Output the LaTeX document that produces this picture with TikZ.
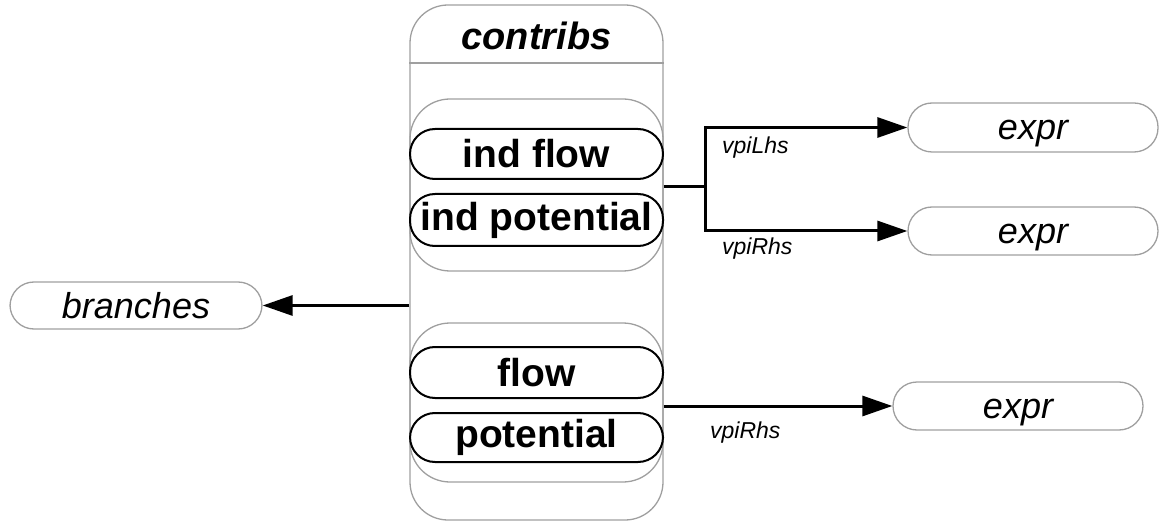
\documentclass[tikz,border=0pt]{standalone}
\usepackage{fontspec}
\setmainfont{Liberation Sans}
\usetikzlibrary{arrows.meta}
\begin{document}
\begin{tikzpicture}[x=1pt,y=-1pt,
  graybox/.style={draw=gray!75, line width=1.3pt},
  blackbox/.style={draw=black, line width=2pt, minimum width=253pt, rounded corners=25pt, inner sep=0pt, font=\bfseries\fontsize{39}{40}\selectfont},
  leaf/.style={graybox, rounded corners=24pt, minimum width=250pt, minimum height=48pt, inner sep=0pt, text height=25pt, text depth=0pt, font=\itshape\fontsize{36}{38}\selectfont},
  conn/.style={line width=3pt},
  arr/.style={conn, -{Triangle[length=30pt,width=20pt]}},
  lbl/.style={anchor=west, inner sep=0pt, font=\itshape\fontsize{23}{25}\selectfont}
]
\path[use as bounding box] (0,0) rectangle (1159,529);
% container
\node[graybox, rounded corners=38pt, minimum width=253pt, minimum height=515pt, inner sep=0pt] (outer) at (536.5,262.5) {};
\node[font=\bfseries\itshape\fontsize{38}{40}\selectfont] (title) at (536.5,36) {contribs};
\coordinate (sep) at (0,63);
\draw[graybox] (outer.west |- sep) -- (outer.east |- sep);
% group 1
\node[graybox, rounded corners=40pt, minimum width=253pt, minimum height=172pt, inner sep=0pt] (g1) at (536.5,185) {};
\node[blackbox, minimum height=50pt] (indflow) at (536.5,154) {ind flow};
\node[blackbox, minimum height=52pt] (indpot) at (536.5,220) {ind potential};
% group 2
\node[graybox, rounded corners=40pt, minimum width=253pt, minimum height=159pt, inner sep=0pt] (g2) at (536.5,402.5) {};
\node[blackbox, minimum height=51pt] (flow) at (536.5,372.5) {flow};
\node[blackbox, minimum height=49pt] (pot) at (536.5,437.5) {potential};
% leaves
\node[leaf, minimum height=49pt] (e1) at (1033,127.5) {expr};
\node[leaf] (e2) at (1033,231) {expr};
\node[leaf] (e3) at (1018,406) {expr};
\node[leaf, minimum width=252pt, minimum height=47pt] (br) at (136,305.5) {branches};
% connectors
\coordinate (split) at (705,187);
\draw[conn] (g1.east |- split) -- (split);
\draw[arr] (split) |- (e1.west);
\draw[arr] (split) |- (e2.west);
\draw[arr] (e3.west -| g2.east) -- (e3.west);
\draw[arr] (outer.west |- br.east) -- (br.east);
% labels
\node[lbl] (l1) at (722,148) {vpiLhs};
\node[lbl] (l2) at (722,249) {vpiRhs};
\node[lbl] (l3) at (710,433) {vpiRhs};
\end{tikzpicture}
\end{document}
